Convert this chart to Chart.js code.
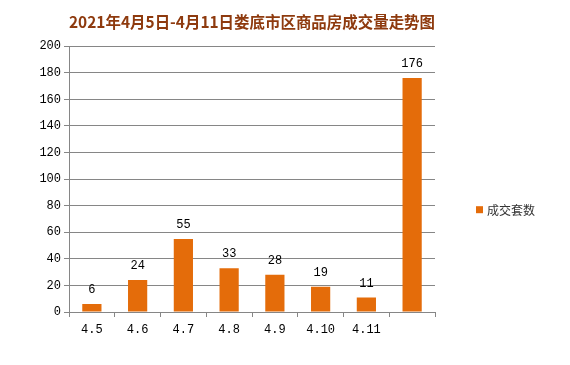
<!DOCTYPE html>
<html>
<head>
    <title>娄底市区商品房成交量走势图</title>
    <script src="https://cdn.jsdelivr.net/npm/chart.js"></script>
    <style>
        html, body { margin: 0; padding: 0; background: #fff; }
        #salesChart { display: block; }
    </style>
</head>
<body>
    <canvas id="salesChart" width="570" height="365"></canvas>

    <script>
        // data
        const dayLabels = ['4.5', '4.6', '4.7', '4.8', '4.9', '4.10', '4.11', ''];
        const dealCounts = [6, 24, 55, 33, 28, 19, 11, 176];
        const seriesName = '成交套数';
        const chartTitle = '2021年4月5日-4月11日娄底市区商品房成交量走势图';
        const barColor = '#E46C0A';

        const tickFont = { family: "'Liberation Mono', monospace", size: 12 };

        // value labels above each bar
        const barValues = {
            id: 'barValues',
            afterDatasetsDraw(chart) {
                const ctx = chart.ctx;
                const meta = chart.getDatasetMeta(0);
                ctx.save();
                ctx.font = "12px 'Liberation Mono', monospace";
                ctx.fillStyle = '#000';
                ctx.textAlign = 'center';
                ctx.textBaseline = 'middle';
                meta.data.forEach((bar, i) => {
                    ctx.fillText(String(dealCounts[i]), bar.x, bar.y - 14);
                });
                ctx.restore();
            }
        };

        // simple legend on the right, a bit below the middle like the original
        const sideLegend = {
            id: 'sideLegend',
            afterDraw(chart) {
                const ctx = chart.ctx;
                const area = chart.chartArea;
                const x = area.right + 41;
                const y = area.top + 164;
                ctx.save();
                ctx.fillStyle = barColor;
                ctx.fillRect(x, y - 4, 7, 7);
                ctx.fillStyle = '#333';
                ctx.font = "12px 'Noto Sans CJK SC', sans-serif";
                ctx.textBaseline = 'middle';
                ctx.fillText(seriesName, x + 11, y);
                ctx.restore();
            }
        };

        const ctx = document.getElementById('salesChart').getContext('2d');
        new Chart(ctx, {
            type: 'bar',
            data: {
                labels: dayLabels,
                datasets: [{
                    label: seriesName,
                    data: dealCounts,
                    backgroundColor: barColor,
                    categoryPercentage: 1,
                    barPercentage: 0.42
                }]
            },
            options: {
                responsive: false,
                animation: false,
                layout: { padding: { left: 0, right: 135, top: 0, bottom: 0 } },
                scales: {
                    x: {
                        grid: {
                            offset: true,
                            drawOnChartArea: false,
                            drawTicks: true,
                            tickLength: 5,
                            color: '#868686'
                        },
                        border: { color: '#868686' },
                        ticks: { font: tickFont, color: '#000', padding: 6, maxRotation: 0 },
                        afterFit(scale) { scale.height = 53; }
                    },
                    y: {
                        min: 0,
                        max: 200,
                        ticks: { stepSize: 20, font: tickFont, color: '#000', padding: 3 },
                        grid: { color: '#868686', tickLength: 5 },
                        border: { color: '#868686' },
                        afterFit(scale) { scale.width = 69; }
                    }
                },
                plugins: {
                    title: {
                        display: true,
                        text: chartTitle,
                        fullSize: false,
                        color: '#8E3A0E',
                        font: { family: "'Noto Sans CJK SC', sans-serif", size: 16, weight: 'bold' },
                        padding: { top: 12, bottom: 15 }
                    },
                    legend: { display: false },
                    tooltip: { enabled: false }
                }
            },
            plugins: [barValues, sideLegend]
        });
    </script>
</body>
</html>
